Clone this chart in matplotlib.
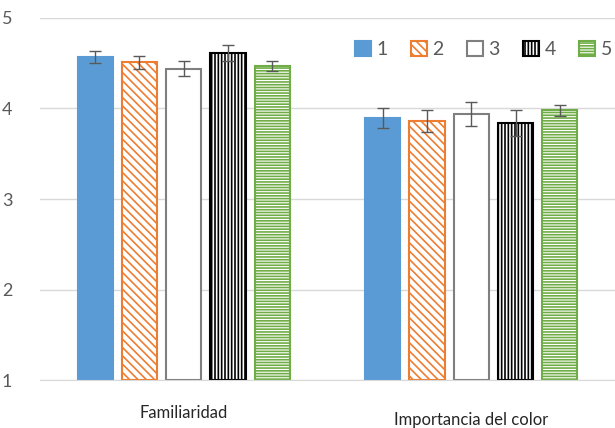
import numpy as np
import matplotlib.pyplot as plt

categories = ["Familiaridad", "Importancia del color"]
series = ["1", "2", "3", "4", "5"]
values = [
    [4.57, 3.89],
    [4.51, 3.86],
    [4.44, 3.94],
    [4.61, 3.84],
    [4.47, 3.98],
]
errors = [
    [0.065, 0.11],
    [0.07, 0.12],
    [0.08, 0.13],
    [0.09, 0.14],
    [0.06, 0.06],
]

faces = ["#5B9BD5", "white", "white", "white", "white"]
edges = ["#5B9BD5", "#ED7D31", "#7F7F7F", "black", "#70AD47"]
hatches = [None, "\\\\\\\\", None, "|||||", "------"]

plt.rcParams["font.family"] = ["Lato", "DejaVu Sans"]
plt.rcParams["hatch.linewidth"] = 1.2

fig = plt.figure(figsize=(6.15, 4.28), dpi=100)
ax = fig.add_axes([0.065, 0.112, 0.935, 0.846])

x = np.arange(len(categories))
step = 0.154
width = 0.122
for i, name in enumerate(series):
    pos = x + (i - 2) * step
    ax.bar(pos, np.array(values[i]) - 1, width, bottom=1, color=faces[i],
           edgecolor=edges[i], hatch=hatches[i], linewidth=1.5, label=name, zorder=2)
    ax.errorbar(pos, values[i], yerr=errors[i], fmt="none", ecolor="#595959",
                elinewidth=1, capsize=4, capthick=1, zorder=3)

ax.set_xlim(-0.5, 1.5)
ax.set_ylim(1, 5)
ax.set_yticks([1, 2, 3, 4, 5])
ax.yaxis.grid(True, color="#D9D9D9", linewidth=1, zorder=0)
ax.set_axisbelow(True)
for s in ["top", "right", "left"]:
    ax.spines[s].set_visible(False)
ax.spines["bottom"].set_color("#D9D9D9")
ax.tick_params(axis="y", length=0, labelsize=13, labelcolor="#595959", pad=20)
ax.tick_params(axis="x", length=0, labelsize=12, labelcolor="#262626", pad=18)
ax.set_xticks(x)
ax.set_xticklabels(categories)
ax.get_xticklabels()[1].set_y(-0.018)

ax.legend(loc="upper right", bbox_to_anchor=(1.025, 0.985), ncol=5, frameon=False,
          fontsize=14, labelcolor="#595959", handlelength=0.8, handleheight=0.8,
          handletextpad=0.3, columnspacing=1.2)

fig.savefig("out.png")
